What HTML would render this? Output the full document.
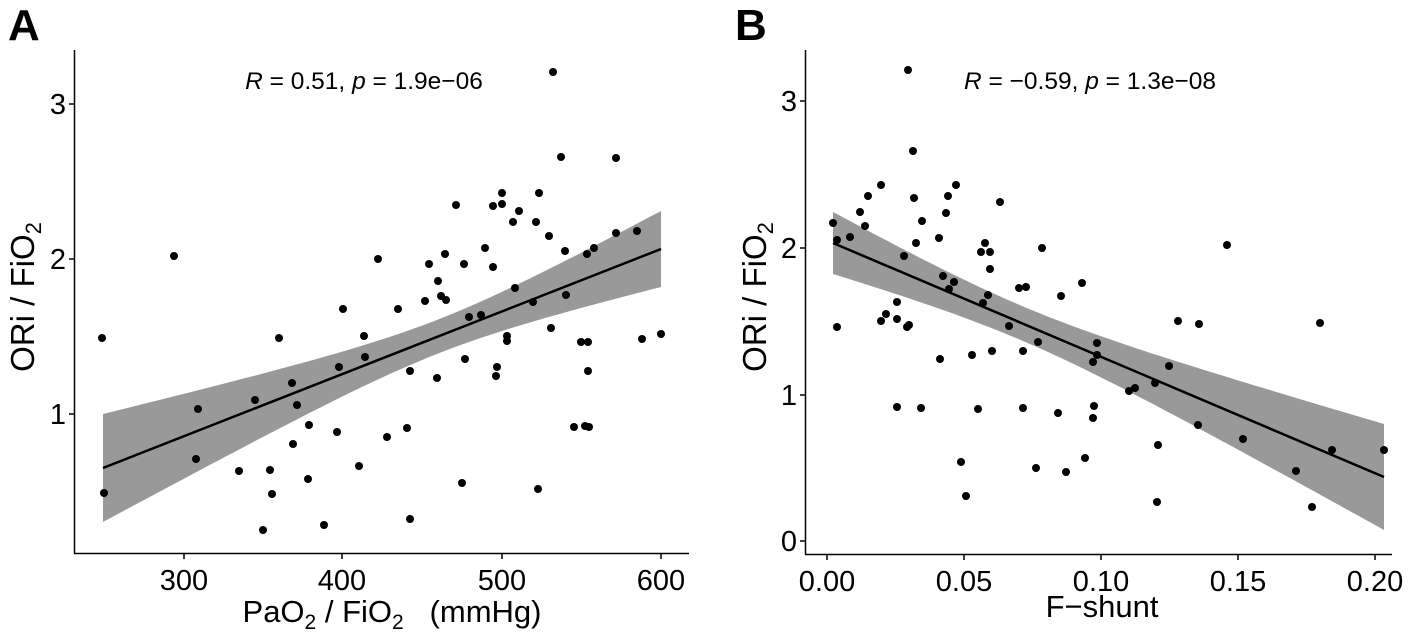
<!DOCTYPE html>
<html><head><meta charset="utf-8"><style>
html,body{margin:0;padding:0;background:#fff;}
svg{display:block;font-family:"Liberation Sans",sans-serif;}
</style></head><body>
<svg id="s" width="1418" height="634" viewBox="0 0 1418 634" xmlns="http://www.w3.org/2000/svg">
<rect width="1418" height="634" fill="#fff"/>
<g id="A"></g><g id="B"></g>
<text x="8" y="40" font-size="44" font-weight="bold">A</text>
<text x="735" y="40" font-size="44" font-weight="bold">B</text>
<line x1="74.5" y1="50" x2="74.5" y2="553.5" stroke="#000" stroke-width="1.5"/>
<line x1="74" y1="553.5" x2="689" y2="553.5" stroke="#000" stroke-width="1.5"/>
<g stroke="#000" stroke-width="1.5">
<line x1="69" y1="104" x2="74" y2="104"/><line x1="69" y1="259" x2="74" y2="259"/><line x1="69" y1="414" x2="74" y2="414"/>
<line x1="184" y1="554" x2="184" y2="559"/><line x1="342" y1="554" x2="342" y2="559"/><line x1="502" y1="554" x2="502" y2="559"/><line x1="661" y1="554" x2="661" y2="559"/>
</g>
<g font-size="29" text-anchor="end"><text x="66" y="114">3</text><text x="66" y="269">2</text><text x="66" y="424">1</text></g>
<g font-size="29" text-anchor="middle"><text x="184" y="590">300</text><text x="342" y="590">400</text><text x="502" y="590">500</text><text x="661" y="590">600</text></g>
<text x="364" y="89" font-size="24.5" text-anchor="middle"><tspan font-style="italic">R</tspan> = 0.51, <tspan font-style="italic">p</tspan> = 1.9e−06</text>
<text x="392" y="622" font-size="31" text-anchor="middle">PaO<tspan font-size="21" dy="7">2</tspan><tspan dy="-7"> / FiO</tspan><tspan font-size="21" dy="7">2</tspan><tspan dy="-7" xml:space="preserve">   (mmHg)</tspan></text>
<text transform="translate(34,297) rotate(-90)" font-size="33" text-anchor="middle">ORi / FiO<tspan font-size="22" dy="7">2</tspan></text>
<line x1="805.5" y1="50" x2="805.5" y2="554.5" stroke="#000" stroke-width="1.5"/>
<line x1="805" y1="554.5" x2="1392" y2="554.5" stroke="#000" stroke-width="1.5"/>
<g stroke="#000" stroke-width="1.5">
<line x1="800" y1="101" x2="805" y2="101"/><line x1="800" y1="248" x2="805" y2="248"/><line x1="800" y1="395" x2="805" y2="395"/><line x1="800" y1="541" x2="805" y2="541"/>
<line x1="827" y1="555" x2="827" y2="560"/><line x1="964" y1="555" x2="964" y2="560"/><line x1="1101" y1="555" x2="1101" y2="560"/><line x1="1238" y1="555" x2="1238" y2="560"/><line x1="1375" y1="555" x2="1375" y2="560"/>
</g>
<g font-size="29" text-anchor="end"><text x="797" y="111">3</text><text x="797" y="258">2</text><text x="797" y="405">1</text><text x="797" y="551">0</text></g>
<g font-size="29" text-anchor="middle"><text x="827" y="591">0.00</text><text x="964" y="591">0.05</text><text x="1101" y="591">0.10</text><text x="1238" y="591">0.15</text><text x="1375" y="591">0.20</text></g>
<text x="1090" y="89" font-size="24.5" text-anchor="middle"><tspan font-style="italic">R</tspan> = −0.59, <tspan font-style="italic">p</tspan> = 1.3e−08</text>
<text x="1102" y="617" font-size="31" text-anchor="middle">F−shunt</text>
<text transform="translate(766,297) rotate(-90)" font-size="33" text-anchor="middle">ORi / FiO<tspan font-size="22" dy="7">2</tspan></text>
</svg>
<script>
(function(){
var NS="http://www.w3.org/2000/svg";
function band(g,x1,y1,x2,y2,x0,h0,b){
 var top=[],bot=[],n=60;
 for(var i=0;i<=n;i++){var x=x1+(x2-x1)*i/n,y=y1+(y2-y1)*i/n,h=Math.sqrt(h0*h0+b*(x-x0)*(x-x0));top.push(x.toFixed(1)+","+(y-h).toFixed(1));bot.unshift(x.toFixed(1)+","+(y+h).toFixed(1));}
 var p=document.createElementNS(NS,"polygon");p.setAttribute("points",top.concat(bot).join(" "));p.setAttribute("fill","#999");g.appendChild(p);
 var l=document.createElementNS(NS,"line");l.setAttribute("x1",x1);l.setAttribute("y1",y1);l.setAttribute("x2",x2);l.setAttribute("y2",y2);l.setAttribute("stroke","#000");l.setAttribute("stroke-width","2.5");g.appendChild(l);
}
function pts(g,arr){for(var i=0;i<arr.length;i+=2){var c=document.createElementNS(NS,"circle");c.setAttribute("cx",arr[i]);c.setAttribute("cy",arr[i+1]);c.setAttribute("r","4");c.setAttribute("fill","#000");g.appendChild(c);}}
var A=document.getElementById("A"),B=document.getElementById("B");
band(A,103,468,661,249,438.5,17,0.02334);
band(B,833,243,1384,477,1020,17.3,0.01895);
pts(A,[174,256,378,259,102,338,279,338,343,309,364,336,365,357,339,367,292,383,255,400,198,409,297,405,309,425,337,432,293,444,196,459,239,471,270,470,359,466,308,479,104,493,272,494,263,530,324,525,
553,72,561,157,616,158,502,193,539,193,456,205,493,206,502,204,519,211,513,222,536,222,549,236,616,233,637,231,485,248,594,248,587,254,565,251,445,254,429,264,464,264,493,267,438,281,515,288,441,296,446,300,425,301,566,295,533,302,398,309,469,317,481,315,551,328,507,336,507,341,581,342,588,342,642,339,661,334,465,359,497,367,496,376,410,371,437,378,588,371,407,428,387,437,574,427,585,426,589,427,462,483,538,489,410,519]);
pts(B,[908,70,913,151,881,185,956,185,868,196,914,198,948,196,1000,202,860,212,946,213,833,223,865,226,922,221,850,237,837,240,939,238,916,243,985,243,981,252,990,252,904,256,1042,248,990,269,943,276,954,282,949,289,1082,283,1019,288,1026,287,988,295,1061,296,983,303,897,302,886,314,881,321,897,319,907,327,909,325,837,327,1009,326,1038,342,992,351,1023,351,972,355,940,359,1097,343,1097,355,1093,362,897,407,921,408,978,409,1023,408,1058,413,1094,406,1093,418,961,462,1036,468,1066,472,1085,458,966,496,
1227,245,1178,321,1199,324,1320,323,1169,366,1155,383,1129,391,1135,388,1158,445,1198,425,1243,439,1296,471,1332,450,1384,450,1157,502,1312,507]);
})();
</script>
</body></html>
